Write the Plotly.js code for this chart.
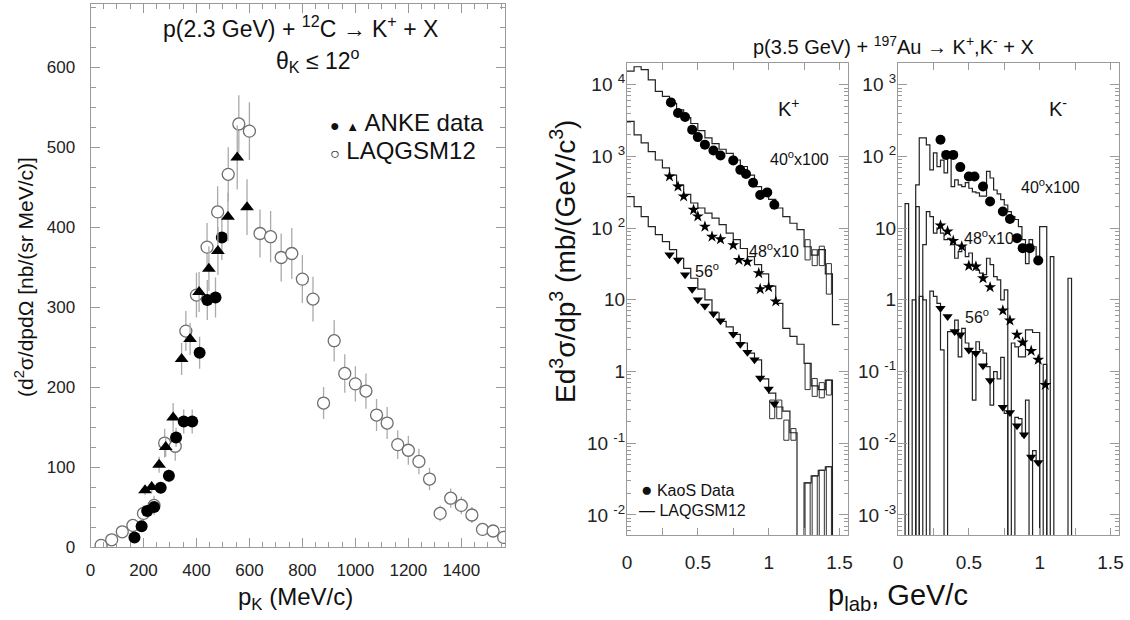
<!DOCTYPE html>
<html><head><meta charset="utf-8">
<script src="https://cdn.plot.ly/plotly-3.0.1.min.js"></script>
<style>
html,body{margin:0;padding:0;background:#fff;overflow:hidden}
#c{width:1130px;height:620px}
</style>
</head><body><div id="c"></div>
<script>
// ---------------- Left panel: p(2.3 GeV) + 12C -> K+ + X ----------------
const laqP = [40, 80, 120, 160, 200, 240, 280, 320, 360, 400, 440, 480, 520, 560, 600, 640, 680, 720, 760, 800, 840, 880, 920, 960, 1000, 1040, 1080, 1120, 1160, 1200, 1240, 1280, 1320, 1360, 1400, 1440, 1480, 1520, 1560];
const laqV = [2, 9, 19, 27, 42, 52, 130, 126, 270, 315, 375, 419, 466, 529, 520, 392, 388, 362, 367, 335, 310, 180, 258, 217, 204, 195, 165, 155, 128, 121, 107, 85, 42, 61, 52, 40, 22, 20, 12];
const laqE = [2, 5, 6, 8, 10, 12, 18, 18, 25, 28, 30, 32, 34, 36, 36, 30, 32, 30, 32, 30, 28, 20, 26, 24, 22, 22, 20, 20, 18, 18, 16, 14, 10, 12, 11, 10, 7, 7, 5];

const ankeCircP = [166, 193, 214, 240, 265, 296, 323, 352, 384, 412, 441, 472, 496];
const ankeCircV = [12, 26, 45, 50, 74, 89, 137, 157, 157, 243, 309, 312, 387];
const ankeCircE = [3, 4, 5, 6, 7, 8, 12, 15, 15, 20, 25, 25, 28];

const ankeTriP = [206, 231, 259, 284, 312, 344, 376, 410, 447, 481, 519, 554, 591];
const ankeTriV = [71, 75, 103, 125, 162, 235, 260, 319, 348, 370, 413, 487, 425];
const ankeTriE = [6, 7, 10, 12, 18, 20, 20, 25, 28, 30, 30, 40, 35];

// ---------------- Right panels: p(3.5 GeV) + 197Au -> K+,K- + X ----------------
// LAQGSM12 histograms, K+ (bin width 0.05 GeV/c, starting at 0)
const kpBinW = 0.05;
const kp40Hist = [15500, 17800, 16200, 11700, 8100, 6900, 5500, 4470, 3470, 2880, 2290, 1820, 1510, 1260, 1100, 891, 724, 550, 380, 331, 251, 191, 145, 117, 95, 55, 42, 50, 23, 4.5];
const kp48Hist = [3090, 2000, 1550, 1170, 891, 692, 550, 398, 295, 224, 191, 162, 138, 112, 85, 69, 52, 40, 31, 23, 15.5, 8.9, 4.0, 3.1, 2.4, 1.3, 0.63, 0.56, 0.76, 0];
const kp56Hist = [275, 200, 145, 105, 81, 65, 50, 38, 27.5, 20, 14.1, 10, 6.6, 5.0, 4.2, 3.3, 2.5, 1.8, 1.45, 0.79, 0.50, 0.32, 0.28, 0.14, 0, 0.028, 0.035, 0.042, 0.047, 0];
// error boxes of the K+ histograms in the tails (bin centre, low edge, high edge; 0 = down to the axis)
const kpBoxP  = [1.275, 1.325, 1.375, 1.425, 1.275, 1.325, 1.375, 1.425, 1.025, 1.075, 1.125, 1.175, 1.275, 1.325, 1.375, 1.425];
const kpBoxLo = [36, 30, 30, 12, 0.56, 0.45, 0.43, 0.47, 0.22, 0.22, 0.11, 0.11, 0, 0, 0, 0];
const kpBoxHi = [69, 50, 56, 32, 1.3, 0.8, 0.7, 0.76, 0.40, 0.40, 0.21, 0.16, 0.028, 0.035, 0.042, 0.047];

// LAQGSM12 histograms, K- (bin width 0.025 GeV/c, starting at 0)
const kmBinW = 0.025;
const km40Hist = [0, 0, 22, 0, 0, 40, 182, 182, 145, 65, 112, 72, 89, 59, 100, 38, 47, 40, 38, 43, 36, 32, 31, 28, 28, 62, 50, 34, 30, 25, 21, 17, 14.5, 13.2, 10.5, 6.9, 3.2, 6.9, 5.5, 3.6, 10.5, 10.5, 0, 4.0, 0, 0, 0, 0, 2.0, 0, 0];
const km48Hist = [0, 0, 0, 0, 0, 20, 0, 5.9, 17, 14.5, 8.5, 10, 8.5, 6.9, 7.2, 5.9, 3.8, 4.7, 5.5, 4.0, 4.5, 2.95, 2.6, 2.35, 2.24, 3.8, 3.1, 2.1, 1.9, 1.0, 1.38, 0, 0.25, 0.22, 0.16, 0.16, 0.38, 0.38, 0.35, 0.35, 0, 0.126, 0];
const km56Hist = [0, 0, 0, 0, 1.0, 0, 1.12, 1.0, 0, 1.32, 1.12, 0.89, 0.2, 0, 0.36, 0.36, 0.52, 0.16, 0.4, 0.25, 0.19, 0.04, 0.26, 0.2, 0.18, 0.117, 0.034, 0.1, 0.079, 0.158, 0.026, 0, 0, 0.023, 0.022, 0.0126, 0.04, 0, 0.0079, 0.0056, 0];

// KaoS data, K+
const kp40P = [0.31, 0.36, 0.41, 0.46, 0.50, 0.55, 0.61, 0.66, 0.75, 0.80, 0.84, 0.89, 0.94, 0.99, 1.04];
const kp40V = [5670, 4030, 3540, 2360, 1860, 1460, 1210, 1030, 880, 650, 570, 430, 290, 315, 212];
const kp48P = [0.30, 0.36, 0.40, 0.47, 0.50, 0.55, 0.60, 0.66, 0.75, 0.79, 0.85, 0.93, 0.94, 1.00, 1.05];
const kp48V = [526, 381, 277, 180, 146, 105, 76, 70, 58, 36, 34, 23.6, 14.1, 15, 9.5];
const kp56P = [0.30, 0.36, 0.41, 0.46, 0.50, 0.55, 0.61, 0.66, 0.75, 0.80, 0.85, 0.90, 0.94, 1.00, 1.04];
const kp56V = [42.5, 36, 22.3, 14, 10, 8.2, 6.4, 5.1, 3.3, 2.4, 1.85, 1.46, 0.81, 0.57, 0.355];

// KaoS data, K-
const km40P = [0.30, 0.34, 0.39, 0.44, 0.50, 0.54, 0.60, 0.65, 0.74, 0.79, 0.84, 0.88, 0.93, 0.99];
const km40V = [171, 105, 105, 71, 52.6, 52.6, 38, 23.5, 17.1, 13.4, 7.25, 5.26, 5.26, 3.54];
const km48P = [0.30, 0.35, 0.39, 0.45, 0.50, 0.55, 0.60, 0.65, 0.74, 0.79, 0.84, 0.88, 0.94, 0.99, 1.04];
const km48V = [10.9, 9.0, 6.65, 5.55, 2.98, 2.92, 2.0, 1.5, 0.71, 0.515, 0.325, 0.254, 0.194, 0.146, 0.065];
const km56P = [0.30, 0.35, 0.40, 0.44, 0.50, 0.55, 0.60, 0.65, 0.74, 0.79, 0.84, 0.89, 0.94, 0.99];
const km56V = [0.766, 0.585, 0.361, 0.325, 0.2, 0.18, 0.12, 0.075, 0.0318, 0.0268, 0.0175, 0.0131, 0.0064, 0.0054];

// tick labels
const kpLogTicks = [0.01, 0.1, 1, 10, 100, 1000, 10000];
const kpLogText = ['10 <sup>-2</sup>', '10 <sup>-1</sup>', '1', '10', '10 <sup>2</sup>', '10 <sup>3</sup>', '10 <sup>4</sup>'];
const kmLogTicks = [0.001, 0.01, 0.1, 1, 10, 100, 1000];
const kmLogText = ['10 <sup>-3</sup>', '10 <sup>-2</sup>', '10 <sup>-1</sup>', '1', '10', '10 <sup>2</sup>', '10 <sup>3</sup>'];
const pTicks = [0, 0.5, 1, 1.5];
const pText = ['0', '0.5', '1', '1.5'];
const pMinor = [0.25, 0.75, 1.25];

// ---------------- drawing ----------------
const FONT = 'Liberation Sans, Arial, Helvetica, sans-serif';
const FRAME = '#9a9a9a';
const FLOOR = 1e-7; // empty bins fall off the bottom of the log axis

function steps(vals, w) {
  const x = [], y = [];
  vals.forEach((v, i) => { x.push(i * w); y.push(v > 0 ? v : FLOOR); });
  const last = vals[vals.length - 1];
  x.push(vals.length * w); y.push(last > 0 ? last : FLOOR);
  return { x, y };
}
function minorLog(lo, hi) {
  const a = [];
  for (let e = lo; e <= hi; e++) for (let m = 2; m <= 9; m++) a.push(m * Math.pow(10, e));
  return a;
}
function histTrace(vals, w, xa, ya) {
  const s = steps(vals, w);
  return { x: s.x, y: s.y, xaxis: xa, yaxis: ya, mode: 'lines', type: 'scatter',
    line: { shape: 'hv', color: '#222', width: 1.2, simplify: false }, hoverinfo: 'skip', showlegend: false };
}
function markTrace(x, y, sym, size, xa, ya) {
  return { x, y, xaxis: xa, yaxis: ya, mode: 'markers', type: 'scatter', showlegend: false,
    marker: { symbol: sym, size, color: '#000', line: { width: 0 } } };
}

const errStyle = { color: '#aaaaaa', thickness: 1.3, width: 0 };
const boxBase = kpBoxLo.map(v => (v > 0 ? v : FLOOR));
const boxLen = kpBoxHi.map((v, i) => v - boxBase[i]);

const traces = [
  { x: laqP, y: laqV, xaxis: 'x', yaxis: 'y', mode: 'markers', type: 'scatter', showlegend: false,
    error_y: Object.assign({ type: 'data', array: laqE, visible: true }, errStyle),
    error_x: Object.assign({ type: 'constant', value: 20, visible: true }, errStyle),
    marker: { symbol: 'circle', size: 12, color: '#fff', line: { color: '#6f6f6f', width: 1.3 } } },
  { x: ankeCircP, y: ankeCircV, xaxis: 'x', yaxis: 'y', mode: 'markers', type: 'scatter', showlegend: false,
    error_y: Object.assign({ type: 'data', array: ankeCircE, visible: true }, errStyle),
    marker: { symbol: 'circle', size: 12, color: '#000' } },
  { x: ankeTriP, y: ankeTriV, xaxis: 'x', yaxis: 'y', mode: 'markers', type: 'scatter', showlegend: false,
    error_y: Object.assign({ type: 'data', array: ankeTriE, visible: true }, errStyle),
    marker: { symbol: 'triangle-up', size: 12, color: '#000' } },

  { type: 'bar', x: kpBoxP, y: boxLen, base: boxBase, width: 0.036, xaxis: 'x2', yaxis: 'y2', showlegend: false,
    marker: { color: 'rgba(0,0,0,0)', line: { color: '#333', width: 1 } }, hoverinfo: 'skip' },
  histTrace(kp40Hist, kpBinW, 'x2', 'y2'),
  histTrace(kp48Hist, kpBinW, 'x2', 'y2'),
  histTrace(kp56Hist, kpBinW, 'x2', 'y2'),
  markTrace(kp40P, kp40V, 'circle', 10, 'x2', 'y2'),
  markTrace(kp48P, kp48V, 'star', 9, 'x2', 'y2'),
  markTrace(kp56P, kp56V, 'triangle-down', 9, 'x2', 'y2'),

  histTrace(km40Hist, kmBinW, 'x3', 'y3'),
  histTrace(km48Hist, kmBinW, 'x3', 'y3'),
  histTrace(km56Hist, kmBinW, 'x3', 'y3'),
  markTrace(km40P, km40V, 'circle', 10, 'x3', 'y3'),
  markTrace(km48P, km48V, 'star', 9, 'x3', 'y3'),
  markTrace(km56P, km56V, 'triangle-down', 9, 'x3', 'y3')
];

const PW = 1130, PH = 620;
const fx = v => v / PW, fy = v => 1 - v / PH;

const axBase = {
  ticks: 'inside', tickcolor: FRAME, tickwidth: 1, showline: true, linecolor: FRAME, linewidth: 1,
  mirror: 'ticks', showgrid: false, zeroline: false, fixedrange: true
};
const layout = {
  width: PW, height: PH, autosize: false, barmode: 'overlay',
  margin: { l: 0, r: 0, t: 0, b: 0, pad: 0 },
  paper_bgcolor: '#fff', plot_bgcolor: '#fff',
  font: { family: FONT, color: '#111' },
  showlegend: false,
  xaxis: Object.assign({}, axBase, {
    domain: [fx(90.5), fx(505)], anchor: 'y', range: [0, 1565],
    tickmode: 'linear', tick0: 0, dtick: 200, ticklen: 9, ticklabelstandoff: 8,
    tickfont: { size: 17, family: FONT, color: '#222' },
    minor: { ticks: 'inside', dtick: 50, tick0: 0, ticklen: 5, tickcolor: FRAME, showgrid: false }
  }),
  yaxis: Object.assign({}, axBase, {
    domain: [fy(547), fy(4)], anchor: 'x', range: [0, 679],
    tickmode: 'linear', tick0: 0, dtick: 100, ticklen: 9, ticklabelstandoff: 11,
    tickfont: { size: 17, family: FONT, color: '#222' },
    minor: { ticks: 'inside', dtick: 25, tick0: 0, ticklen: 5, tickcolor: FRAME, showgrid: false }
  }),
  xaxis2: Object.assign({}, axBase, {
    domain: [fx(627), fx(848)], anchor: 'y2', range: [0, 1.56],
    tickmode: 'array', tickvals: pTicks, ticktext: pText, ticklen: 7, ticklabelstandoff: 10,
    tickfont: { size: 19, family: FONT, color: '#222' },
    minor: { ticks: 'inside', tickmode: 'array', tickvals: pMinor, ticklen: 7, tickcolor: FRAME, showgrid: false }
  }),
  yaxis2: Object.assign({}, axBase, {
    domain: [fy(535), fy(62.5)], anchor: 'x2', type: 'log', range: [-2.28, 4.31],
    tickmode: 'array', tickvals: kpLogTicks, ticktext: kpLogText, ticklen: 9, ticklabelstandoff: -3,
    tickfont: { size: 19, family: FONT, color: '#222' },
    minor: { ticks: 'inside', tickmode: 'array', tickvals: minorLog(-3, 4), ticklen: 4, tickcolor: FRAME, showgrid: false }
  }),
  xaxis3: Object.assign({}, axBase, {
    domain: [fx(898), fx(1119)], anchor: 'y3', range: [0, 1.56],
    tickmode: 'array', tickvals: pTicks, ticktext: pText, ticklen: 7, ticklabelstandoff: 10,
    tickfont: { size: 19, family: FONT, color: '#222' },
    minor: { ticks: 'inside', tickmode: 'array', tickvals: pMinor, ticklen: 7, tickcolor: FRAME, showgrid: false }
  }),
  yaxis3: Object.assign({}, axBase, {
    domain: [fy(535), fy(62.5)], anchor: 'x3', type: 'log', range: [-3.28, 3.31],
    tickmode: 'array', tickvals: kmLogTicks, ticktext: kmLogText, ticklen: 9, ticklabelstandoff: -3,
    tickfont: { size: 19, family: FONT, color: '#222' },
    minor: { ticks: 'inside', tickmode: 'array', tickvals: minorLog(-4, 3), ticklen: 4, tickcolor: FRAME, showgrid: false }
  }),
  annotations: []
};

function ann(text, x, y, size, opts) {
  layout.annotations.push(Object.assign({
    text, x: fx(x), y: fy(y), xref: 'paper', yref: 'paper', showarrow: false,
    xanchor: 'center', yanchor: 'middle', font: { size, family: FONT, color: '#111' }
  }, opts || {}));
}
// left panel texts
ann('p(2.3 GeV) + <sup>12</sup>C \u2192 K<sup>+</sup> + X', 300, 27, 23);
ann('\u03b8<sub>K</sub> \u2264 12<sup>o</sup>', 318, 60, 23);
ann('<span style="font-size:16px">\u25cf</span> <span style="font-size:13px">\u25b2</span> ANKE data', 328, 123, 24, { xanchor: 'left' });
ann('<span style="font-size:16px">\u25cb</span> LAQGSM12', 328, 150, 24, { xanchor: 'left' });
ann('(d<sup>2</sup>\u03c3/dpd\u03a9 [nb/(sr MeV/c)]', 24, 277, 21, { textangle: -90 });
ann('p<sub>K</sub> (MeV/c)', 295, 598, 24);
// right panels texts
ann('p(3.5 GeV) + <sup>197</sup>Au \u2192 K<sup>+</sup>,K<sup>-</sup> + X', 893, 45, 20);
ann('Ed<sup>3</sup>\u03c3/dp<sup>3</sup> (mb/(GeV/c<sup>3</sup>)', 563, 262, 28, { textangle: -90 });
ann('p<sub>lab</sub>, GeV/c', 898, 597, 29);
ann('K<sup>+</sup>', 789, 107, 20);
ann('40<sup>o</sup>x100', 799, 158, 16);
ann('48<sup>o</sup>x10', 774, 250, 16);
ann('56<sup>o</sup>', 707, 270, 16);
ann('K<sup>-</sup>', 1058, 107, 20);
ann('40<sup>o</sup>x100', 1050, 186, 16);
ann('48<sup>o</sup>x10', 989, 237, 16);
ann('56<sup>o</sup>', 977, 316, 16);
ann('<span style="font-size:19px">\u25cf</span> KaoS Data', 639, 489, 16, { xanchor: 'left' });
ann('\u2014 LAQGSM12', 637, 510, 16, { xanchor: 'left' });

Plotly.newPlot('c', traces, layout, { displayModeBar: false, staticPlot: true });
</script>
</body></html>
